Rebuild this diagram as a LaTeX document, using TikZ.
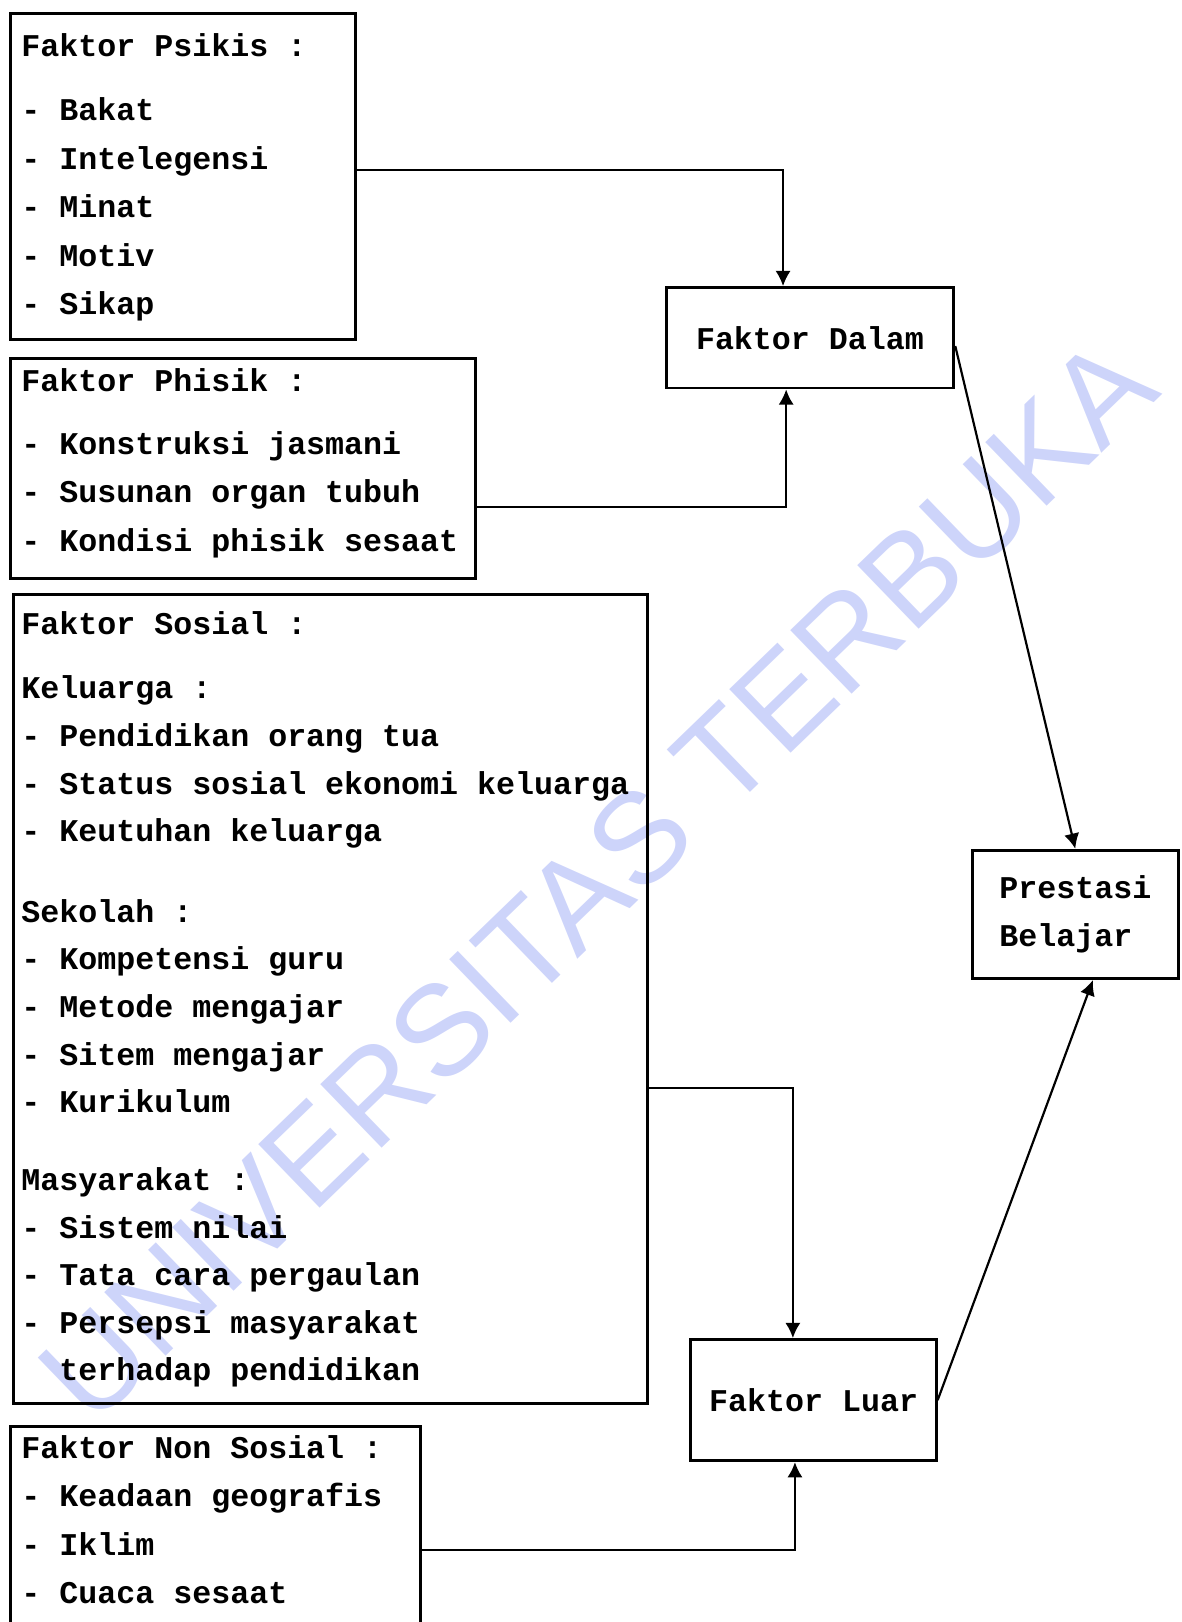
\documentclass[tikz,border=0pt]{standalone}
\usepackage{fontspec}
\usetikzlibrary{arrows.meta}
\newfontfamily\typewriter{Liberation Mono}
\newfontfamily\wmfont{Liberation Sans}
\definecolor{wmblue}{RGB}{205,212,250}
\tikzset{
  factbox/.style={draw,line width=0.8pt,anchor=north west,inner sep=0pt},
  factlist/.style={anchor=base west,align=left,inner sep=0pt,font=\typewriter\bfseries\fontsize{8.7}{13.3}\selectfont},
  resultbox/.style={draw,line width=0.8pt,inner sep=0pt,font=\typewriter\bfseries\fontsize{8.7}{13.3}\selectfont},
  link/.style={line width=0.6pt,-{Latex[length=4.2pt,width=4.2pt]}}
}
\begin{document}
\begin{tikzpicture}[x=0.01cm,y=-0.01cm]
\clip (0,0) rectangle (1142,1568);
% watermark
\node[rotate=44,text=wmblue,font=\wmfont\fontsize{35.3}{40}\selectfont] (watermark) at (577,850) {UNIVERSITAS TERBUKA};
% faktor dalam
\node[factbox,minimum width=3.33cm,minimum height=3.15cm] (psikis) at (9,12) {};
\node[factlist] (psikistext) at (20,304) {Faktor Psikis :\\[4.3pt]- Bakat\\- Intelegensi\\- Minat\\- Motiv\\- Sikap};
\node[factbox,minimum width=4.49cm,minimum height=2.13cm] (phisik) at (9,345) {};
\node[factlist] (phisiktext) at (20,533) {Faktor Phisik :\\[4pt]- Konstruksi jasmani\\- Susunan organ tubuh\\- Kondisi phisik sesaat};
% faktor luar
\node[factbox,minimum width=6.12cm,minimum height=7.82cm] (sosial) at (12,573) {};
\node[factlist,font=\typewriter\bfseries\fontsize{8.7}{13.1}\selectfont] (sosialtext) at (20,1335) {Faktor Sosial :\\[4.5pt]Keluarga :\\- Pendidikan orang tua\\- Status sosial ekonomi keluarga\\- Keutuhan keluarga\\[9pt]Sekolah :\\- Kompetensi guru\\- Metode mengajar\\- Sitem mengajar\\- Kurikulum\\[8.2pt]Masyarakat :\\- Sistem nilai\\- Tata cara pergaulan\\- Persepsi masyarakat\\\phantom{-~}terhadap pendidikan};
\node[factbox,minimum width=3.96cm,minimum height=2.22cm] (nonsosial) at (9,1378) {};
\node[factlist] (nonsosialtext) at (20,1550) {Faktor Non Sosial :\\- Keadaan geografis\\- Iklim\\- Cuaca sesaat};
% hasil
\node[resultbox,minimum width=2.78cm,minimum height=0.97cm] (dalam) at (783,326.5) {Faktor Dalam};
\node[resultbox,minimum width=2.37cm,minimum height=1.17cm] (luar) at (786.5,1353.5) {Faktor Luar};
\node[resultbox,minimum width=1.99cm,minimum height=1.24cm,align=left] (prestasi) at (1039.5,884) {Prestasi\\Belajar};
% connectors
\draw[link] ([yshift=0.07cm]psikis.east) -| ([xshift=-0.26cm]dalam.north);
\draw[link] ([yshift=-0.375cm]phisik.east) -| ([xshift=-0.23cm]dalam.south);
\draw[link] ([yshift=-0.08cm]dalam.east) -- (prestasi.north);
\draw[link] ([yshift=-0.86cm]sosial.east) -| ([xshift=-0.2cm]luar.north);
\draw[link] ([yshift=-0.08cm]nonsosial.east) -| ([xshift=-0.18cm]luar.south);
\draw[link] (luar.east) -- ([xshift=0.17cm]prestasi.south);
\end{tikzpicture}
\end{document}
